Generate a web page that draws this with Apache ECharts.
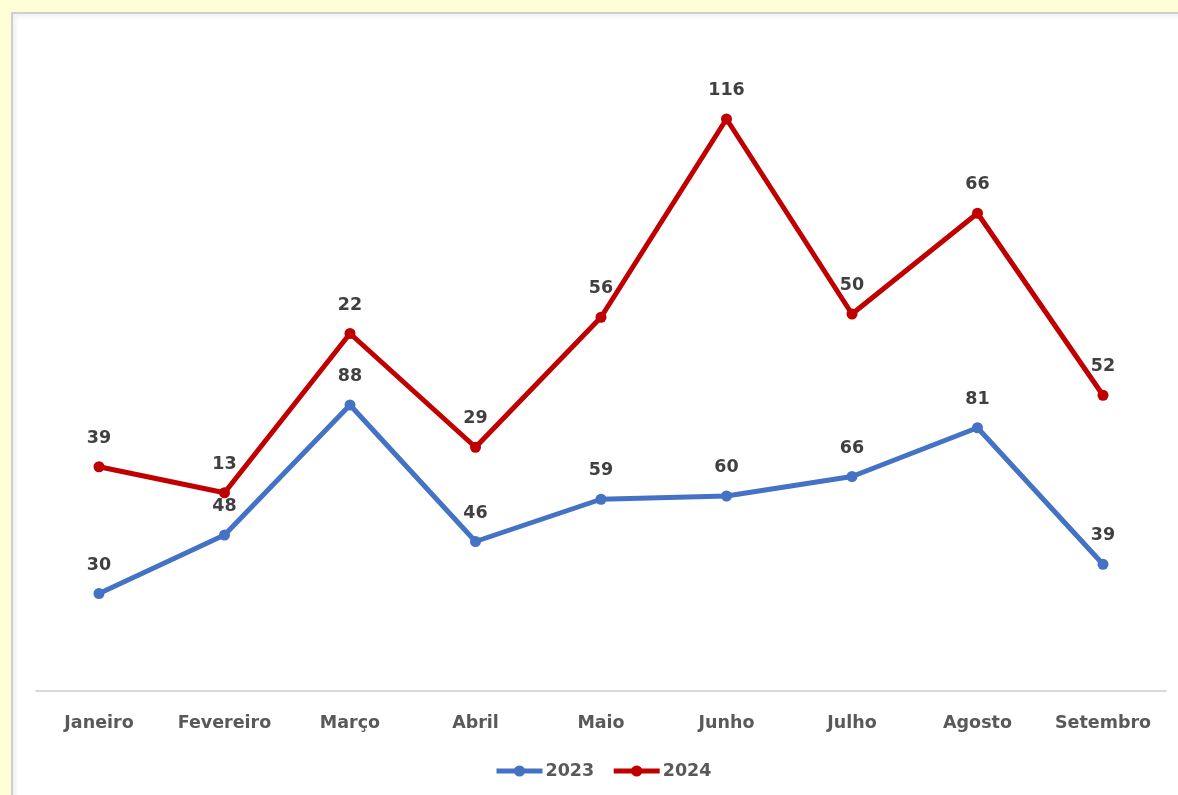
<!DOCTYPE html>
<html>
<head>
<meta charset="utf-8">
<script src="https://cdn.jsdelivr.net/npm/echarts@6/dist/echarts.min.js"></script>
<style>
html,body{margin:0;padding:0;width:1178px;height:795px;overflow:hidden;background:#fffdd6;}
#panel{position:absolute;left:11px;top:12px;width:1200px;height:820px;background:#fff;border-left:2px solid #cfcfcf;border-top:2px solid #cfcfcf;box-shadow:inset 3px 3px 4px rgba(0,0,0,0.06);}
#chart{position:absolute;left:0;top:0;width:1178px;height:795px;}
</style>
</head>
<body>
<div id="panel"></div>
<div id="chart"></div>
<script>
const categories = ['Janeiro','Fevereiro','Março','Abril','Maio','Junho','Julho','Agosto','Setembro'];
const values2023 = [30, 48, 88, 46, 59, 60, 66, 81, 39];
const values2024 = [39, 13, 22, 29, 56, 116, 50, 66, 52];
const seriesNames = ['2023', '2024'];

const chart = echarts.init(document.getElementById('chart'), null, {renderer:'canvas'});
const font = '"DejaVu Sans", "Open Sans", sans-serif';
const labelStyle = {show:true, position:'top', distance:14, color:'#404040', fontSize:17.5, fontWeight:'bold', fontFamily:font};
chart.setOption({
  backgroundColor:'transparent',
  animation:false,
  grid:{left:36.25, right:12.25, top:41, bottom:104},
  legend:{
    bottom:10, left:489, itemWidth:46, itemHeight:14, itemGap:17,
    lineStyle:{width:5}, itemStyle:{},
    textStyle:{color:'#595959', fontSize:17.5, fontWeight:'bold', fontFamily:font, padding:[0,0,0,-2]},
    data:seriesNames
  },
  xAxis:{
    type:'category', data:categories, boundaryGap:true,
    axisLine:{lineStyle:{color:'#d9d9d9', width:2}},
    axisTick:{show:false},
    axisLabel:{color:'#595959', fontSize:17.5, fontWeight:'bold', fontFamily:font, margin:23}
  },
  yAxis:{type:'value', min:0, max:200, show:false, splitLine:{show:false}},
  series:[
    {name:seriesNames[0], type:'line', stack:'total', data:values2023, color:'#4472c4',
     lineStyle:{width:5}, symbol:'circle', symbolSize:11, label:labelStyle},
    {name:seriesNames[1], type:'line', stack:'total', data:values2024, color:'#c00000',
     lineStyle:{width:5}, symbol:'circle', symbolSize:11, label:labelStyle}
  ]
});
</script>
</body>
</html>
